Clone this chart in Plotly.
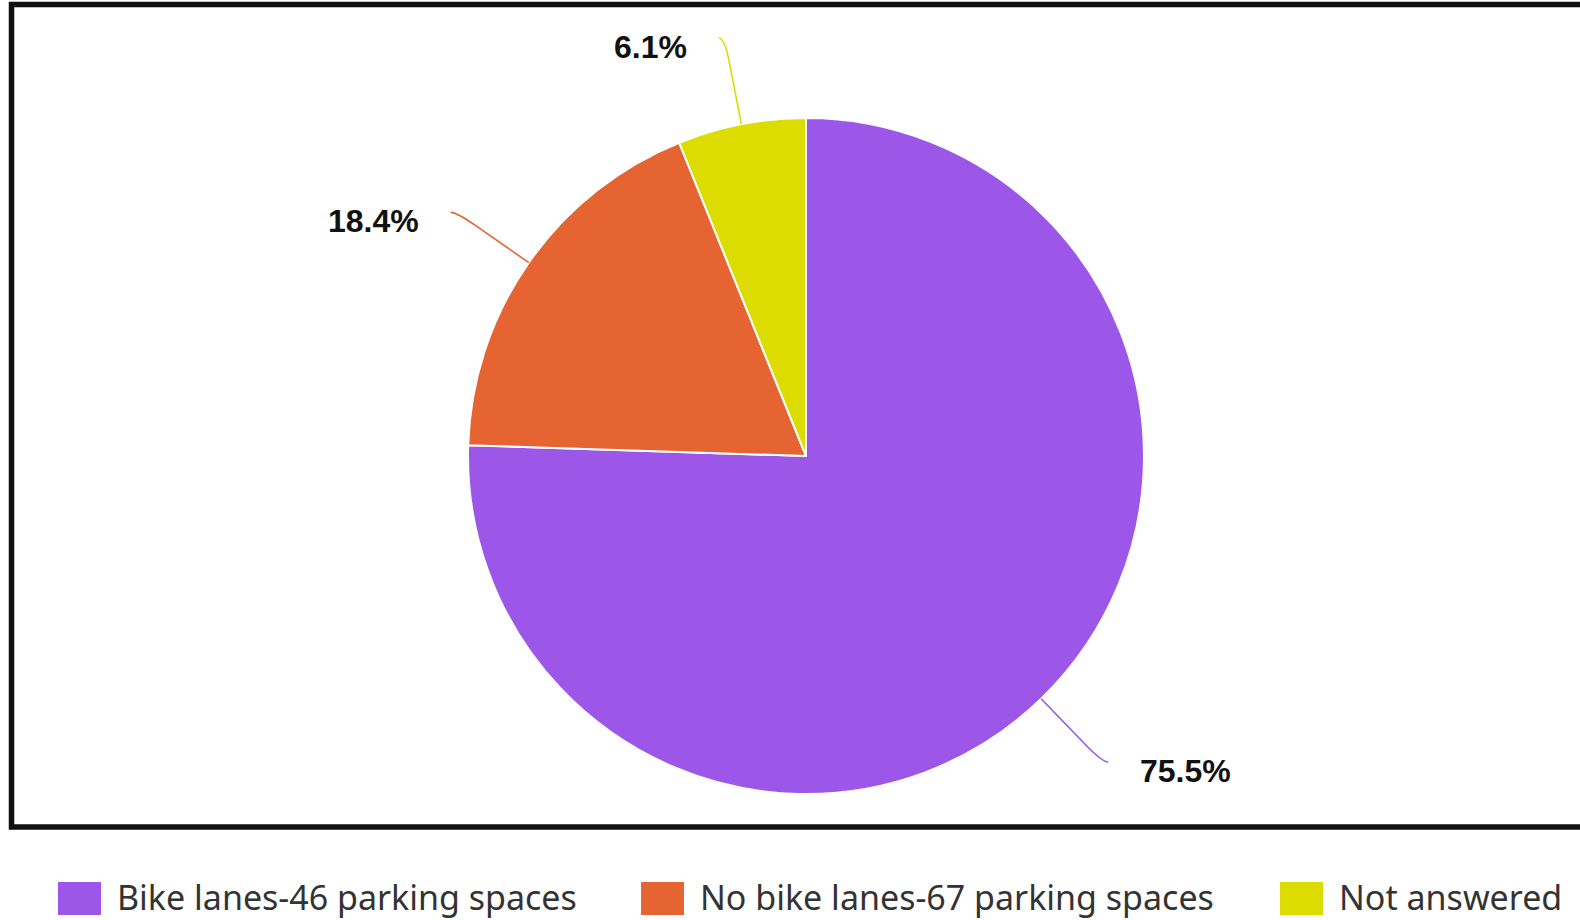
import math
import plotly.graph_objects as go

# ---- data ----
labels = ["Bike lanes-46 parking spaces", "No bike lanes-67 parking spaces", "Not answered"]
values = [37, 9, 3]
colors = ["#9c57e9", "#e66432", "#dcdc00"]

W, H = 1580, 920
CX, CY, R = 806, 456, 338          # pie centre / radius in px (layout)


def px(x):
    return x / W


def py(y):
    return 1 - y / H


fig = go.Figure()
fig.add_trace(go.Pie(
    labels=labels, values=values, sort=False, direction="clockwise", rotation=0,
    marker=dict(colors=colors, line=dict(color="white", width=2)),
    textinfo="none", hoverinfo="label+percent", showlegend=False,
    domain=dict(x=[px(CX - R), px(CX + R)], y=[py(CY + R), py(CY - R)]),
))

shapes = []
annotations = []

# border box
shapes.append(dict(type="rect", xref="paper", yref="paper",
                   x0=px(11.5), x1=px(1600), y0=py(827), y1=py(4.5),
                   line=dict(color="#111111", width=5.5), fillcolor="rgba(0,0,0,0)"))

# leader lines + percentage labels, derived from data
total = sum(values)
cum = 0
for v, c in zip(values, colors):
    mid = (cum + v / 2) / total * 2 * math.pi
    cum += v
    ux, uy = math.sin(mid), -math.cos(mid)
    s = 1 if ux >= 0 else -1
    p0 = (CX + R * ux, CY + R * uy)
    p1 = (CX + 1.19 * R * ux, CY + 1.19 * R * uy)
    pc = (CX + 1.26 * R * ux, CY + 1.26 * R * uy)
    pe = (pc[0] + s * 6, pc[1])
    path = (f"M {px(p0[0])} {py(p0[1])} L {px(p1[0])} {py(p1[1])} "
            f"Q {px(pc[0])} {py(pc[1])} {px(pe[0])} {py(pe[1])}")
    shapes.append(dict(type="path", xref="paper", yref="paper", path=path,
                       line=dict(color=c, width=1.6)))
    annotations.append(dict(
        xref="paper", yref="paper", x=px(pe[0] + s * 30), y=py(pe[1] + 9),
        xanchor="left" if s > 0 else "right", yanchor="middle", showarrow=False,
        text=f"<b>{v / total * 100:.1f}%</b>",
        font=dict(family="Liberation Sans, Arial, sans-serif", size=32, color="#111111"),
    ))

# custom legend
legend_x = [58, 641, 1280]
for lx, lab, c in zip(legend_x, labels, colors):
    shapes.append(dict(type="rect", xref="paper", yref="paper",
                       x0=px(lx), x1=px(lx + 43), y0=py(915), y1=py(882),
                       fillcolor=c, line=dict(width=0)))
    annotations.append(dict(
        xref="paper", yref="paper", x=px(lx + 57), y=py(897),
        xanchor="left", yanchor="middle", showarrow=False, text=lab,
        font=dict(family="Noto Sans, Open Sans, sans-serif", size=34, color="#333333"),
    ))

fig.update_layout(
    width=W, height=H, margin=dict(l=0, r=0, t=0, b=0),
    paper_bgcolor="white", plot_bgcolor="white",
    shapes=shapes, annotations=annotations, showlegend=False,
)

fig.write_html("out.html", config={"displayModeBar": False},
               post_script="document.body.style.margin='0';document.body.style.overflow='hidden';")
